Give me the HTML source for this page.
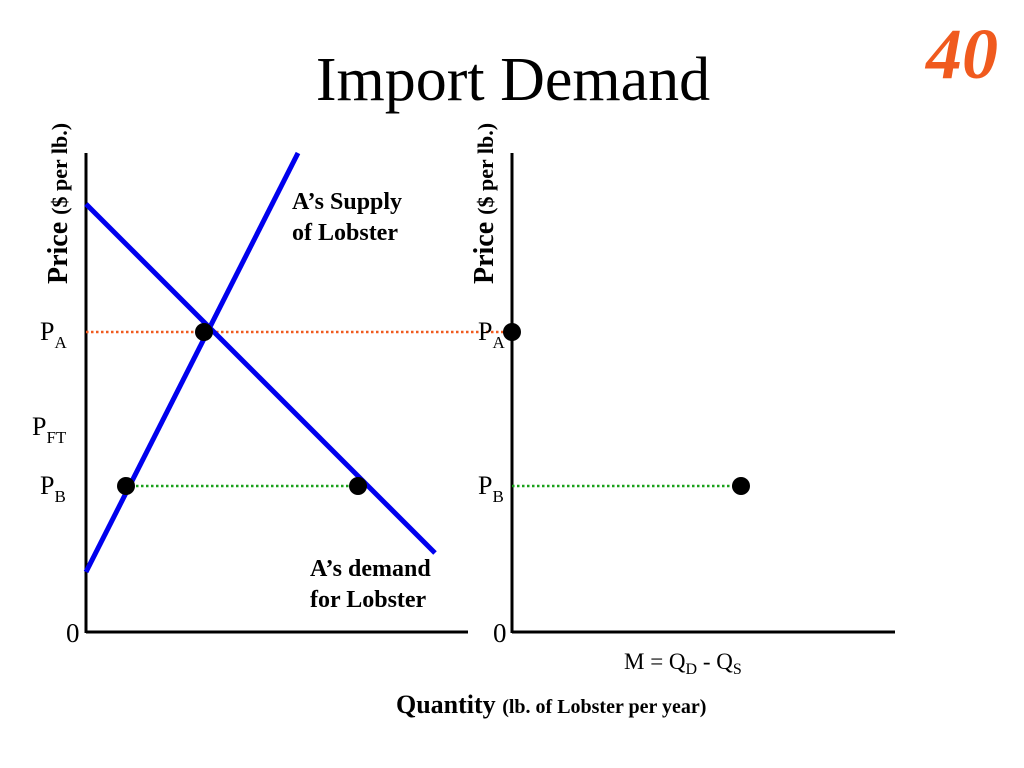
<!DOCTYPE html>
<html><head><meta charset="utf-8"><style>
body{margin:0;background:#fff}
svg{display:block;font-family:"Liberation Serif",serif}
</style></head><body>
<svg width="1024" height="768">
<text x="513" y="100" text-anchor="middle" font-size="62">Import Demand</text>
<text x="998" y="78" text-anchor="end" font-size="72" font-weight="bold" font-style="italic" fill="#f05a1e">40</text>
<g id="plot"></g>
<text x="67" y="284" transform="rotate(-90 67 284)" font-size="28" font-weight="bold">Price <tspan font-size="22">($ per lb.)</tspan></text>
<text x="493" y="284" transform="rotate(-90 493 284)" font-size="28" font-weight="bold">Price <tspan font-size="22">($ per lb.)</tspan></text>
<text x="292" y="209" font-size="24" font-weight="bold">A’s Supply</text>
<text x="292" y="240" font-size="24" font-weight="bold">of Lobster</text>
<text x="310" y="576" font-size="24" font-weight="bold">A’s demand</text>
<text x="310" y="607" font-size="24" font-weight="bold">for Lobster</text>
<text x="66" y="642" font-size="27">0</text>
<text x="493" y="642" font-size="27">0</text>
<text x="624" y="669" font-size="23">M = Q<tspan font-size="16" dy="5">D</tspan><tspan dy="-5"> - Q</tspan><tspan font-size="16" dy="5">S</tspan></text>
<text x="396" y="713" font-size="26" font-weight="bold">Quantity <tspan font-size="20">(lb. of Lobster per year)</tspan></text>
</svg>
<script>
const priceLabels=["A","FT","B"];
const prices=[300,205,146];
const supplyQ=[0,212];const supplyP=[60,479];
const demandQ=[0,349];const demandP=[428,79];
const eqQ=[118];
const qsAtPB=[40];const qdAtPB=[272];
const importQ=[229];
const NS="http://www.w3.org/2000/svg";
const g=document.getElementById("plot");
const LX=86,RX=512,BY=632;
const xl=q=>LX+q, xr=q=>RX+q, y=p=>BY-p;
function mk(t,a){const e=document.createElementNS(NS,t);for(const k in a)e.setAttribute(k,a[k]);g.appendChild(e);return e;}
let e;
e=mk("line",{x1:LX,y1:153,x2:LX,y2:BY+1,stroke:"#000","stroke-width":3});


e=mk("line",{x1:LX,y1:BY,x2:468,y2:BY,stroke:"#000","stroke-width":3});


e=mk("line",{x1:RX,y1:153,x2:RX,y2:BY+1,stroke:"#000","stroke-width":3});


e=mk("line",{x1:RX,y1:BY,x2:895,y2:BY,stroke:"#000","stroke-width":3});


e=mk("line",{x1:LX,y1:y(prices[0]),x2:RX,y2:y(prices[0]),stroke:"#f05a1e","stroke-width":2.5,"stroke-dasharray":"2.5 2.5"});


e=mk("line",{x1:xl(qsAtPB[0]),y1:y(prices[2]),x2:xl(qdAtPB[0]),y2:y(prices[2]),stroke:"#1aa01a","stroke-width":2.5,"stroke-dasharray":"2.5 2.5"});


e=mk("line",{x1:RX,y1:y(prices[2]),x2:xr(importQ[0]),y2:y(prices[2]),stroke:"#1aa01a","stroke-width":2.5,"stroke-dasharray":"2.5 2.5"});


e=mk("line",{x1:xl(supplyQ[0]),y1:y(supplyP[0]),x2:xl(supplyQ[1]),y2:y(supplyP[1]),stroke:"#0000ee","stroke-width":5});


e=mk("line",{x1:xl(demandQ[0]),y1:y(demandP[0]),x2:xl(demandQ[1]),y2:y(demandP[1]),stroke:"#0000ee","stroke-width":5});


const dots=[[xl(eqQ[0]),y(prices[0])],[xl(qsAtPB[0]),y(prices[2])],[xl(qdAtPB[0]),y(prices[2])],[RX,y(prices[0])],[xr(importQ[0]),y(prices[2])]];
dots.forEach(d=>{
 const c=mk("circle",{cx:d[0],cy:d[1],r:9,fill:"#000"});
 
 
});
[[LX,0],[RX,1]].forEach(([ax,side])=>{
 priceLabels.forEach((l,i)=>{
  if(side===1&&l==="FT")return;
  const t=mk("text",{x:ax-46+(side?12:0)-(l==="FT"?8:0),y:y(prices[i])+8,"font-size":26});
  
  
  t.innerHTML="P<tspan font-size='17' dy='8'>"+l+"</tspan>";
 });
});
</script>
</body></html>
